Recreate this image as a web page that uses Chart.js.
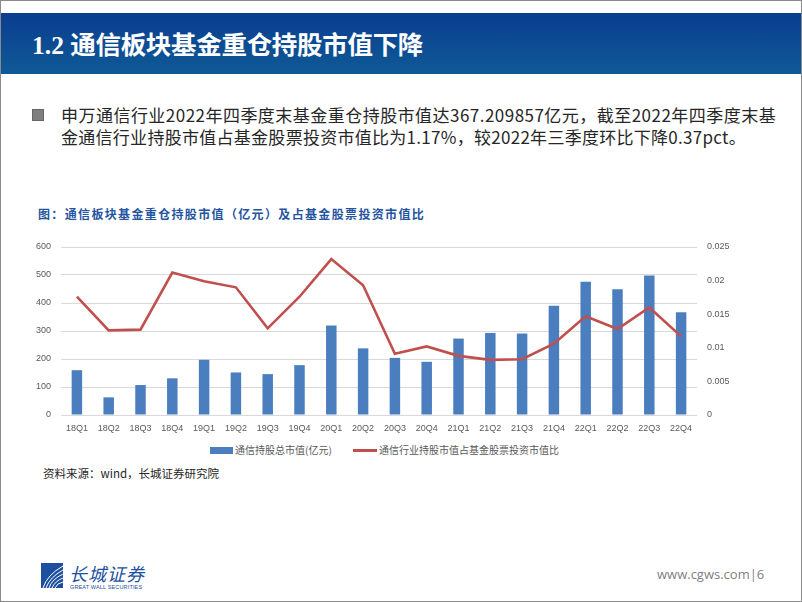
<!DOCTYPE html>
<html>
<head>
<meta charset="utf-8">
<script src="https://cdn.jsdelivr.net/npm/chart.js@4.4.0/dist/chart.umd.min.js"></script>
<style>
  html, body { margin: 0; padding: 0; background: #fff; }
  #page { position: relative; width: 802px; height: 602px; overflow: hidden; background: #fff; }
  #frame { position: absolute; left: 0; top: 0; width: 800px; height: 600px; border: 1px solid #8a8a8a; pointer-events: none; }
  #band { position: absolute; left: 1px; top: 13px; width: 800px; height: 61px;
          background: linear-gradient(#0a3d8f, #0f5a96); }
  #band .t { position: absolute; left: 31px; top: 14px; color: #fff; font-size: 25.5px; font-weight: bold;
             font-family: "Liberation Serif", "Noto Sans CJK SC", serif; line-height: 32px; white-space: nowrap; }
  #band .t span { font-family: "Noto Sans CJK SC", sans-serif; letter-spacing: -0.3px; }
  .bullet { position: absolute; left: 32px; top: 109px; width: 10px; height: 10px; background: #7f7f7f; border: 1px solid #666; }
  .txt { position: absolute; left: 61px; font-family: "Noto Sans CJK SC", sans-serif; font-size: 17px; color: #262626; white-space: nowrap; line-height: 22px; }
  #l1 { top: 104px; letter-spacing: 0.47px; }
  #l2 { top: 126px; letter-spacing: 0.28px; }
  #ctitle { position: absolute; left: 38px; top: 205px; font-family: "Noto Sans CJK SC", sans-serif; font-size: 12px; font-weight: bold;
            color: #2454a0; letter-spacing: 1.35px; white-space: nowrap; line-height: 18px; }
  #chartbox { position: absolute; left: 0; top: 230px; width: 802px; height: 212px; }
  #legend { position: absolute; top: 442px; left: 0; width: 802px; height: 16px; font-family: "Noto Sans CJK SC", sans-serif; font-size: 10px; color: #595959; }
  #legend .sw1 { position: absolute; left: 210px; top: 5px; width: 23px; height: 7px; background: #4a7ebf; }
  #legend .tx1 { position: absolute; left: 235px; top: 0px; line-height: 16px; white-space: nowrap; }
  #legend .sw2 { position: absolute; left: 353px; top: 7px; width: 24px; height: 2.5px; background: #c0504d; }
  #legend .tx2 { position: absolute; left: 379px; top: 0px; line-height: 16px; white-space: nowrap; }
  #source { position: absolute; left: 43px; top: 465px; font-family: "Noto Sans CJK SC", sans-serif; font-size: 11.5px; color: #262626; white-space: nowrap; line-height: 16px; }
  #logo { position: absolute; left: 41px; top: 563px; width: 22px; height: 25px; }
  #brand { position: absolute; left: 69px; top: 562px; font-family: "Noto Sans CJK SC", sans-serif; font-size: 18px; color: #1d4fa0; font-style: italic; letter-spacing: 1px; white-space: nowrap; line-height: 22px; }
  #brand2 { position: absolute; left: 70px; top: 584px; font-family: "Liberation Sans", sans-serif; font-size: 5.5px; color: #1d4fa0; white-space: nowrap; letter-spacing: 0.15px; line-height: 7px; }
  #site { position: absolute; left: 657px; top: 565px; font-family: "Open Sans", sans-serif; font-size: 13px; color: #7f7f7f; white-space: nowrap; line-height: 18px; }
</style>
</head>
<body>
<div id="page">
  <div id="band"><div class="t">1.2 <span>通信板块基金重仓持股市值下降</span></div></div>
  <div class="bullet"></div>
  <div class="txt" id="l1">申万通信行业2022年四季度末基金重仓持股市值达367.209857亿元，截至2022年四季度末基</div>
  <div class="txt" id="l2">金通信行业持股市值占基金股票投资市值比为1.17%，较2022年三季度环比下降0.37pct。</div>
  <div id="ctitle">图：通信板块基金重仓持股市值（亿元）及占基金股票投资市值比</div>
  <div id="chartbox"><canvas id="c" width="802" height="212"></canvas></div>
  <div id="legend">
    <div class="sw1"></div><div class="tx1">通信持股总市值(亿元)</div>
    <div class="sw2"></div><div class="tx2">通信行业持股市值占基金股票投资市值比</div>
  </div>
  <div id="source">资料来源：wind，长城证券研究院</div>
  <svg id="logo" viewBox="0 0 22 25">
    <rect x="0" y="0" width="22" height="25" fill="#1d4fa0"/>
    <path d="M2 25 Q6 12 22 3 M5 25 Q9 14 22 7 M8 25 Q11 16 22 11 M11 25 Q14 18 22 15 M14 25 Q16 20 22 19" stroke="#fff" stroke-width="1" fill="none"/>
  </svg>
  <div id="brand">长城证券</div>
  <div id="brand2">GREAT WALL SECURITIES</div>
  <div id="site">www.cgws.com|6</div>
  <div id="frame"></div>
</div>
<script>
const categories = ['18Q1','18Q2','18Q3','18Q4','19Q1','19Q2','19Q3','19Q4','20Q1','20Q2','20Q3','20Q4','21Q1','21Q2','21Q3','21Q4','22Q1','22Q2','22Q3','22Q4'];
const holdingValue = [160, 63, 107, 131, 197, 152, 146, 178, 320, 238, 204, 190, 273, 293, 291, 390, 476, 449, 498, 367.21];
const holdingRatio = [0.0176, 0.0126, 0.0127, 0.0212, 0.0199, 0.0190, 0.0129, 0.0176, 0.0232, 0.0193, 0.0091, 0.0102, 0.0088, 0.0082, 0.0083, 0.0106, 0.0147, 0.0128, 0.0160, 0.0117];
const leftTicks = [0, 100, 200, 300, 400, 500, 600];
const rightTicks = [0, 0.005, 0.01, 0.015, 0.02, 0.025];
const seriesNames = ['通信持股总市值(亿元)', '通信行业持股市值占基金股票投资市值比'];

const tickFont = { family: 'Liberation Sans', size: 9 };
new Chart(document.getElementById('c'), {
  data: {
    labels: categories,
    datasets: [
      { type: 'line', label: seriesNames[1], data: holdingRatio, yAxisID: 'y1', borderColor: '#c0504d', backgroundColor: '#c0504d',
        borderWidth: 2.6, pointRadius: 0, tension: 0, order: 0 },
      { type: 'bar', label: seriesNames[0], data: holdingValue, yAxisID: 'y', backgroundColor: '#4a7ebf',
        categoryPercentage: 1, barPercentage: 0.33, order: 1 }
    ]
  },
  options: {
    responsive: false,
    animation: false,
    layout: { padding: { top: 17, left: 0, right: 0, bottom: 0 } },
    plugins: { legend: { display: false }, tooltip: { enabled: false } },
    scales: {
      x: {
        grid: { display: false, drawTicks: false },
        border: { display: false },
        ticks: { font: tickFont, color: '#595959', padding: 8, maxRotation: 0, autoSkip: false },
        afterFit: s => { s.height = 27; }
      },
      y: {
        position: 'left', min: 0, max: 600,
        afterBuildTicks: s => { s.ticks = leftTicks.map(v => ({ value: v })); },
        grid: { color: '#d9d9d9', lineWidth: 1, drawTicks: false },
        border: { display: false },
        ticks: { font: tickFont, color: '#595959', padding: 10 },
        afterFit: s => { s.width = 61; }
      },
      y1: {
        position: 'right', min: 0, max: 0.025,
        afterBuildTicks: s => { s.ticks = rightTicks.map(v => ({ value: v })); },
        grid: { display: false, drawTicks: false },
        border: { display: false },
        ticks: { font: tickFont, color: '#595959', padding: 10, callback: v => String(v) },
        afterFit: s => { s.width = 105; }
      }
    }
  }
});
</script>
</body>
</html>
